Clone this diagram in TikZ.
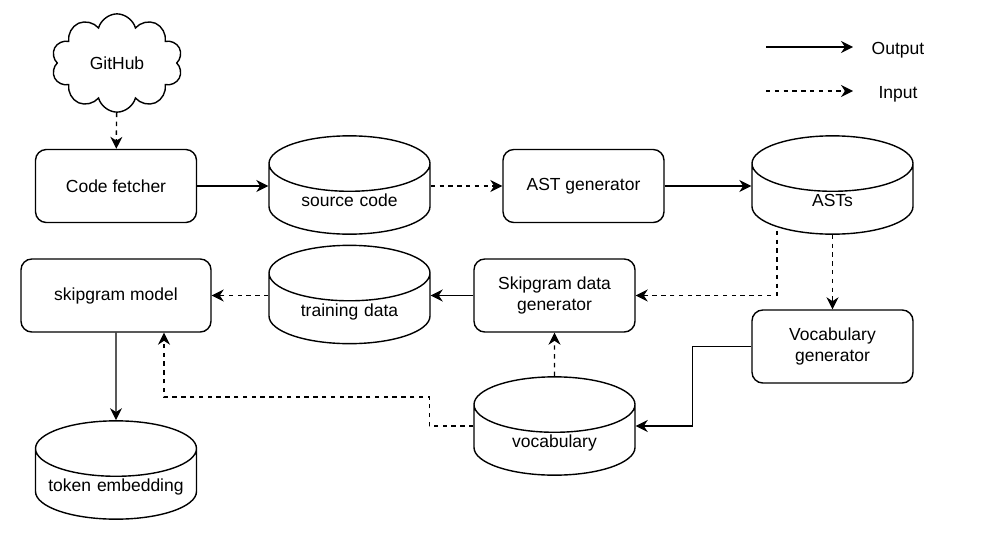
\documentclass[tikz,border=0pt]{standalone}
\usepackage{fontspec}
\setmainfont{Liberation Sans}
\usetikzlibrary{positioning,calc,arrows.meta,shapes.geometric,shapes.symbols}
\tikzset{font=\fontsize{8.75}{10.5}\selectfont}
\tikzset{
	proc/.style={draw, rounded corners=5.4pt, align=center, minimum width=80.5pt, minimum height=36.5pt, inner sep=1pt},
	store/.style={draw, cylinder, shape border rotate=90, aspect=0.385, minimum width=80.5pt, minimum height=44pt, inner sep=1pt, text width=70pt, align=center, text height=6.5pt, text depth=1.8pt, anchor=shape center},
	outarrow/.style={-{Stealth[length=6pt, width=6pt]}},
	inarrow/.style={-{Stealth[length=6pt, width=6pt]}, dash pattern=on 2.2pt off 2.2pt}
}

\begin{document}
\begin{tikzpicture}[x=0.5pt, y=-0.5pt, line width=0.7pt]
	\useasboundingbox (0,0) rectangle (986,546);
	\begin{scope}
		\node[draw, cloud, cloud puffs=10, minimum width=65.5pt, minimum height=36.5pt, inner sep=1pt] (github) at (117,63) {GitHub};
		\node[proc] (fetcher) at (116,186) {Code fetcher};
		\node[store] (source) at (349.5,185) {source code};
		\node[proc] (astgen) at (583.5,186) {AST generator};
		\node[store] (asts) at (832.5,185) {ASTs};
		\node[proc, minimum width=95pt] (skipmodel) at (116,295.5) {skipgram model};
		\node[store] (training) at (349.5,294.5) {training data};
		\node[proc] (sgdata) at (554.5,295.5) {Skipgram data\\generator};
		\node[proc] (vocabgen) at (832.5,346.5) {Vocabulary\\generator};
		\node[store] (vocab) at (554.5,426) {vocabulary};
		\node[store] (embedding) at (116,470) {token embedding};

		\coordinate (outfrom) at (766,47);
		\coordinate (outto) at (853,47);
		\coordinate (infrom) at (766,91);
		\coordinate (into) at (853,91);
		\node (outtext) at (898,50) {Output};
		\node (intext) at (898,94) {Input};

		\draw[outarrow](outfrom) -- (outto);
		\draw[inarrow ](infrom) -- (into);

		\draw[inarrow ](github) -- (fetcher);
		\draw[outarrow](fetcher.east) -- (fetcher.east -| source.west);
		\draw[inarrow ](astgen.west -| source.east) -- (astgen.west);
		\draw[outarrow](astgen.east) -- (astgen.east -| asts.west);
		\draw[inarrow ]($(asts.south)+(-55.5,-4)$) |- (sgdata.east);
		\draw[inarrow ](asts.south) -- (vocabgen.north);
		\draw[outarrow](vocabgen.west) -- ++(-59,0) |- (vocab.shape center -| vocab.east);
		\draw[inarrow ](vocab.north) -- (sgdata.south);
		\draw[inarrow ](vocab.shape center -| vocab.west) -- ++(-44,0) -- ++(0,-29) -| ($(skipmodel.south)+(48,0)$);
		\draw[outarrow](sgdata.west) -- (sgdata.west -| training.east);
		\draw[inarrow ](skipmodel.east -| training.west) -- (skipmodel.east);
		\draw[outarrow](skipmodel.south) -- (embedding.north);
	\end{scope}
\end{tikzpicture}
\end{document}
